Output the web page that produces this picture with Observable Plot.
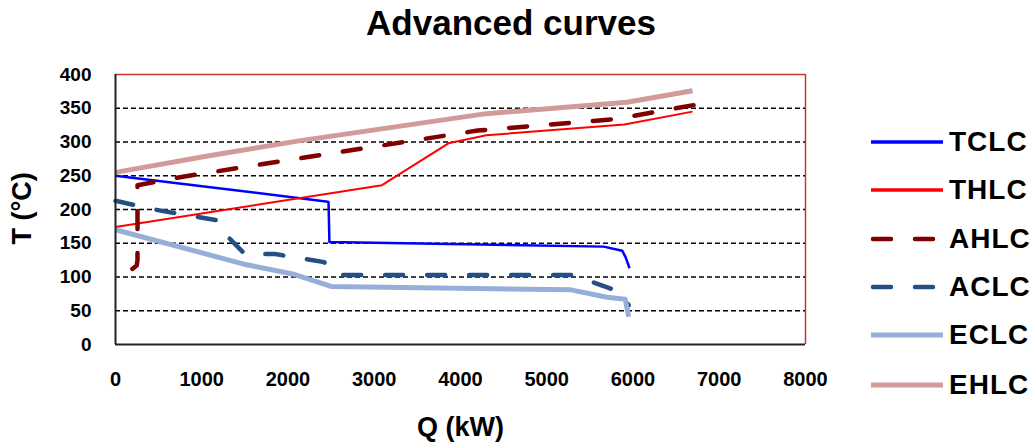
<!DOCTYPE html>
<html><head><meta charset="utf-8">
<script src="https://cdn.jsdelivr.net/npm/d3@7"></script>
<script src="https://cdn.jsdelivr.net/npm/@observablehq/plot@0.6"></script>
<style>
html,body{margin:0;padding:0;background:#fff;}
#wrap{position:relative;width:1035px;height:448px;overflow:hidden;font-family:"Liberation Sans",Arial,sans-serif;background:#fff;}
#title{position:absolute;left:0;top:5px;width:1022px;text-align:center;font-weight:bold;font-size:35px;line-height:35px;color:#000;}
#chart{position:absolute;left:0;top:56px;}
.lg{position:absolute;left:866px;height:28px;width:170px;}
.lg svg{position:absolute;left:0;top:9px;}
.lg span{position:absolute;left:83px;top:0;font-weight:bold;font-size:28px;line-height:28px;letter-spacing:1px;color:#000;white-space:nowrap;}
</style>
</head><body>
<div id="wrap">
  <div id="title">Advanced curves</div>
  <div id="chart"></div>
  <div id="legend"></div>
</div>
<script>
// ---- data ----
const seriesNames = ["TCLC", "THLC", "AHLC", "ACLC", "ECLC", "EHLC"];

const tclcQ = [0, 1100, 2440, 2470, 2480, 5660, 5875, 5915, 5960];
const tclcT = [250, 233, 212, 211, 152, 145, 139, 129, 113];

const thlcQ = [0, 3090, 3860, 4300, 5900, 6690];
const thlcT = [174, 236, 298, 310, 326, 345];

const ahlcQ = [195, 245, 255, 255, 800, 2145, 4200, 5800, 6720];
const ahlcT = [112, 117, 125, 236, 249, 276, 317, 334, 355];

const aclcQ = [0, 450, 1180, 1300, 1500, 1850, 2420, 2560, 5300, 5760, 5900, 5950];
const aclcT = [213, 200, 184, 160, 134, 134, 122, 103, 103, 82, 70, 58];

const eclcQ = [0, 1490, 2070, 2500, 5280, 5700, 5910, 5950];
const eclcT = [170, 119, 104, 86, 81, 70, 67, 41];

const ehlcQ = [0, 1100, 2145, 4300, 5930, 6690];
const ehlcT = [255, 280, 302, 342, 359, 376];

const xTicks = [0, 1000, 2000, 3000, 4000, 5000, 6000, 7000, 8000];
const yTicks = [0, 50, 100, 150, 200, 250, 300, 350, 400];

// ---- styles ----
const seriesColors = ["#0000ff", "#ff0000", "#800000", "#244f85", "#95afd8", "#d39a9a"];
const seriesWidths = [2.5, 2, 4.5, 4.5, 5, 5];
const seriesDash = [null, null, "18,24", "18,24", null, null];

const seriesQ = [tclcQ, thlcQ, ahlcQ, aclcQ, eclcQ, ehlcQ];
const seriesT = [tclcT, thlcT, ahlcT, aclcT, eclcT, ehlcT];

const lineMarks = seriesNames.map((name, i) => {
  const rows = seriesQ[i].map((q, j) => ({q, t: seriesT[i][j]}));
  return Plot.line(rows, {
    x: "q", y: "t",
    stroke: seriesColors[i],
    strokeWidth: seriesWidths[i],
    strokeDasharray: seriesDash[i] || undefined,
    strokeLinecap: seriesDash[i] ? "round" : "butt",
    strokeLinejoin: "round"
  });
});

const chart = Plot.plot({
  width: 1035,
  height: 392,
  marginTop: 18,
  marginBottom: 104,
  marginLeft: 115,
  marginRight: 230,
  style: {fontFamily: "'Liberation Sans', Arial, sans-serif", background: "white", color: "black", overflow: "visible"},
  x: {domain: [0, 8000], axis: null},
  y: {domain: [0, 400], axis: null},
  marks: [
    Plot.ruleY(yTicks.filter(v => v > 0 && v < 400), {stroke: "black", strokeWidth: 1.3, strokeDasharray: "5,3"}),
    Plot.ruleY([400], {stroke: "#cc3333", strokeWidth: 1.5}),
    Plot.ruleX([8000], {stroke: "#cc3333", strokeWidth: 1.5}),
    ...lineMarks,
    Plot.ruleX([0], {stroke: "#222", strokeWidth: 2}),
    Plot.ruleY([0], {stroke: "#222", strokeWidth: 2}),
    Plot.axisX(xTicks, {tickSize: 0, tickPadding: 27, fontSize: 20, fontWeight: "bold", label: null, tickFormat: d => String(d)}),
    Plot.axisY(yTicks, {tickSize: 0, tickPadding: 24, fontSize: 19, fontWeight: "bold", label: null, tickFormat: d => String(d)}),
    Plot.text(["Q (kW)"], {frameAnchor: "bottom", dy: 91, fontSize: 27, fontWeight: "bold", fill: "black"}),
    Plot.text(["T (°C)"], {frameAnchor: "left", dx: -93.5, dy: 35, rotate: -90, fontSize: 27, fontWeight: "bold", fill: "black"})
  ]
});
document.getElementById("chart").appendChild(chart);

// ---- legend ----
const legendCenters = [142, 190, 239, 287, 335, 385];
const legend = document.getElementById("legend");
seriesNames.forEach((name, i) => {
  const row = document.createElement("div");
  row.className = "lg";
  row.style.top = (legendCenters[i] - 14) + "px";
  const dash = seriesDash[i] ? ` stroke-dasharray="${seriesDash[i]}" stroke-linecap="round"` : ` stroke-linecap="butt"`;
  const x1 = seriesDash[i] ? 7 : 5, x2 = seriesDash[i] ? 74 : 77;
  row.innerHTML = `<svg width="80" height="10"><line x1="${x1}" y1="5" x2="${x2}" y2="5" stroke="${seriesColors[i]}" stroke-width="${seriesWidths[i] < 3 ? 3.5 : seriesWidths[i]}"${dash}/></svg><span>${name}</span>`;
  legend.appendChild(row);
});
</script>
</body></html>
